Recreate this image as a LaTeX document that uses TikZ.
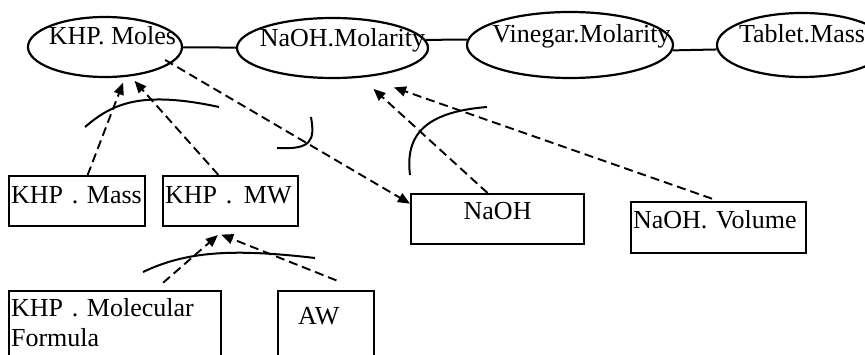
\documentclass[tikz,border=0pt]{standalone}
\usepackage{fontspec}
\setmainfont{Liberation Serif}
\usetikzlibrary{arrows.meta,calc,shapes.geometric}
\newcommand{\enov}[3]{\makebox[0pt]{\hspace*{#1}\raisebox{#2}[0pt][0pt]{#3}}}

\begin{document}
\begin{tikzpicture}[x=1pt,y=-1pt,font={\fontsize{26}{30}\selectfont\frenchspacing},
          ovalo/.style={draw,ellipse,line width=2.2pt,inner sep=0pt},
          cuadro/.style={draw,line width=2.2pt,anchor=north west,inner ysep=0pt,align=left},
          flecha/.style={line width=1.9pt,dash pattern=on 9pt off 5pt,-{Triangle[length=12pt,width=10pt]}},
          arco/.style={line width=2pt}]
        \useasboundingbox (0,0) rectangle (865,355);
        \node[ovalo,minimum width=154pt,minimum height=60pt] (moles) at (105,47) {\enov{15pt}{2pt}{KHP. Moles}};
        \node[ovalo,minimum width=191pt,minimum height=60pt] (molarity) at (332.5,48) {\enov{20pt}{1pt}{NaOH.Molarity}};
        \node[ovalo,minimum width=206pt,minimum height=66pt] (vinegar) at (570,45) {\enov{23pt}{2pt}{Vinegar.Molarity}};
        \node[ovalo,minimum width=170pt,minimum height=64pt] (tablet) at (802,45) {\enov{0pt}{2pt}{Tablet.Mass}};
        \draw[arco] (moles) -- (molarity);
        \draw[arco] (molarity.5) -- (vinegar.177);
        \draw[arco] (vinegar.-3) -- (tablet.183);
        % los datos, en cuadros
        \node[cuadro,inner xsep=2pt,text width=132pt,text height=27pt,text depth=23pt] (mass) at (8,175) {KHP . Mass};
        \node[cuadro,inner xsep=2pt,text width=131pt,text height=27pt,text depth=23pt] (mw) at (162,175) {\mbox{KHP .\ \hspace{3pt}MW}};
        \node[cuadro,inner xsep=0pt,text width=173pt,text height=25pt,text depth=25pt,align=center] (naoh) at (410,193) {NaOH};
        \node[cuadro,inner xsep=2pt,text width=171pt,text height=26pt,text depth=25pt] (volume) at (630,201) {NaOH. Volume};
        \node[cuadro,inner xsep=2pt,text width=208pt,text height=25pt,text depth=55pt] (molec) at (8,290) {KHP . Molecular\\Formula};
        \node[cuadro,inner xsep=20pt,text width=56pt,text height=33pt,text depth=47pt] (aw) at (277,290) {AW};
        \draw[flecha,shorten >=6pt] (mass.68) -- (moles.-56);
        \draw[flecha,shorten >=6pt] (mw.115) -- (moles.-49);
        \draw[flecha,shorten <=-7pt] (moles.-14.5) -- (naoh.170);
        \draw[flecha,shorten >=16.6pt] (naoh.111) -- (molarity.-46.6);
        \draw[flecha,shorten <=7pt,shorten >=30.7pt] (volume.north) -- (molarity.-42);
        \draw[flecha,shorten <=11pt,shorten >=12pt] (molec.46) -- (mw.-98);
        \draw[flecha,shorten <=26pt,shorten >=20pt] (aw.50) -- (mw.-137);
        % arcos sueltos sobre las flechas
        \draw[arco] (85,127) .. controls (112,104) and (140,90) .. (219,107);
        \draw[arco] (311,117) .. controls (315,140) and (312,150) .. (277,148);
        \draw[arco] (410,175) .. controls (405,135) and (425,112) .. (487,107);
        \draw[arco] (143,272) .. controls (185,252) and (230,248) .. (315,258);
      \end{tikzpicture}
\end{document}
